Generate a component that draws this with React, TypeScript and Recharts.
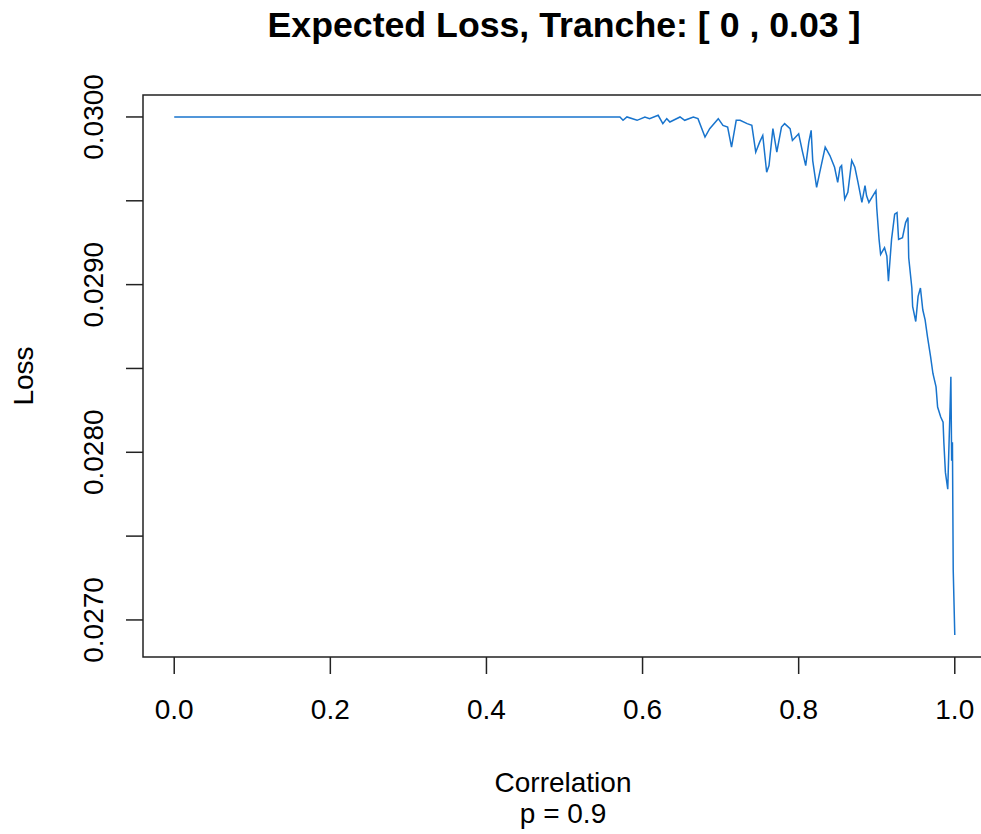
import { LineChart, Line, XAxis, YAxis, ReferenceArea } from 'recharts';

// correlation values (x) and expected loss (y)
const corr = [
  0.0, 0.571, 0.575, 0.58, 0.593, 0.603, 0.609, 0.62, 0.626, 0.631, 0.635, 0.648, 0.654, 0.665,
  0.671, 0.68, 0.686, 0.697, 0.703, 0.709, 0.714, 0.72, 0.725, 0.734, 0.74, 0.745, 0.75, 0.754,
  0.759, 0.762, 0.767, 0.772, 0.778, 0.782, 0.789, 0.792, 0.8, 0.805, 0.809, 0.813, 0.816, 0.818,
  0.823, 0.827, 0.834, 0.84, 0.846, 0.85, 0.853, 0.855, 0.859, 0.863, 0.868, 0.872, 0.876, 0.881,
  0.885, 0.887, 0.89, 0.895, 0.899, 0.9, 0.903, 0.905, 0.91, 0.913, 0.915, 0.919, 0.923, 0.926,
  0.928, 0.933, 0.937, 0.94, 0.941, 0.945, 0.946, 0.95, 0.953, 0.956, 0.959, 0.962, 0.965, 0.969,
  0.972, 0.976, 0.978, 0.982, 0.985, 0.986, 0.988, 0.991, 0.992, 0.994, 0.995, 0.996, 0.997, 0.998,
  1.0,
];
const loss = [
  0.03, 0.03, 0.02998, 0.03, 0.02998, 0.03, 0.02999, 0.03001, 0.02996, 0.02999, 0.02997, 0.03, 0.02998, 0.03,
  0.02999, 0.02988, 0.02993, 0.02999, 0.02995, 0.02994, 0.02982, 0.02998, 0.02998, 0.02996, 0.02995, 0.02979, 0.02985, 0.02989,
  0.02967, 0.02971, 0.02993, 0.02979, 0.02994, 0.02996, 0.02993, 0.02986, 0.0299, 0.02979, 0.02971, 0.02985, 0.02992, 0.02974,
  0.02958, 0.02967, 0.02982, 0.02977, 0.0297, 0.02961, 0.0297, 0.02971, 0.02951, 0.02955, 0.02974, 0.0297, 0.02961, 0.02949,
  0.02959, 0.02953, 0.02949, 0.02953, 0.02956, 0.02946, 0.02927, 0.02918, 0.02922, 0.02917, 0.02902, 0.02927, 0.02942, 0.02943,
  0.02927, 0.02928, 0.02937, 0.0294, 0.02916, 0.02898, 0.02887, 0.02878, 0.02893, 0.02898, 0.02885, 0.02879, 0.02869, 0.02857,
  0.02847, 0.02839, 0.02827, 0.02821, 0.02818, 0.02806, 0.02788, 0.02778, 0.02795, 0.02827, 0.02845, 0.02795, 0.02806, 0.0273,
  0.02691,
];
const xTicks = [0, 0.2, 0.4, 0.6, 0.8, 1.0];
const yTicks = [0.027, 0.0275, 0.028, 0.0285, 0.029, 0.0295, 0.03];

const data = corr.map((c, i) => ({ corr: c, loss: loss[i] }));

const X_MIN = -0.04;
const X_MAX = 1.04;
const Y_MIN = 0.026779;
const Y_MAX = 0.030131;
const FONT = '"Liberation Sans", Arial, sans-serif';

function XTick(props: any) {
  const { x, y, payload } = props;
  return (
    <text x={x} y={y + 45} textAnchor="middle" fontSize={28} fontFamily={FONT} fill="#000">
      {payload.value.toFixed(1)}
    </text>
  );
}

function YTick(props: any) {
  const { x, y, payload } = props;
  const v = payload.value;
  if (Math.round(v * 10000) % 10 !== 0) return null;
  const tx = x - 23;
  return (
    <text x={tx} y={y} transform={`rotate(-90, ${tx}, ${y})`} textAnchor="middle" fontSize={28} fontFamily={FONT} fill="#000">
      {v.toFixed(4)}
    </text>
  );
}

export default function App() {
  return (
    <div style={{ position: 'absolute', left: 0, top: 0, width: 981, height: 834, overflow: 'hidden', background: '#fff' }}>
      <LineChart width={1000} height={834} data={data} margin={{ top: 95, right: 14, bottom: 77, left: 0 }}>
        <XAxis
          dataKey="corr"
          type="number"
          domain={[X_MIN, X_MAX]}
          ticks={xTicks}
          allowDataOverflow
          height={100}
          tickSize={17}
          tickMargin={0}
          axisLine={false}
          tickLine={{ stroke: '#222', strokeWidth: 1.5 }}
          tick={<XTick />}
        />
        <YAxis
          type="number"
          domain={[Y_MIN, Y_MAX]}
          ticks={yTicks}
          allowDataOverflow
          width={143}
          tickSize={17}
          tickMargin={0}
          axisLine={false}
          tickLine={{ stroke: '#222', strokeWidth: 1.5 }}
          tick={<YTick />}
          interval={0}
        />
        <ReferenceArea x1={X_MIN} x2={X_MAX} y1={Y_MIN} y2={Y_MAX} fill="none" fillOpacity={0} stroke="#222" strokeWidth={1.5} />
        <Line dataKey="loss" type="linear" stroke="#1874CD" strokeWidth={1.5} dot={false} isAnimationActive={false} />
      </LineChart>
      <svg width={981} height={834} style={{ position: 'absolute', left: 0, top: 0, pointerEvents: 'none' }}>
        <text x={564} y={37} textAnchor="middle" fontSize={35.7} fontWeight="bold" fontFamily={FONT} fill="#000">
          Expected Loss, Tranche: [ 0 , 0.03 ]
        </text>
        <text x={563} y={792} textAnchor="middle" fontSize={28} fontFamily={FONT} fill="#000">
          Correlation
        </text>
        <text x={563} y={823} textAnchor="middle" fontSize={28} fontFamily={FONT} fill="#000">
          p = 0.9
        </text>
        <text x={33} y={376} transform="rotate(-90, 33, 376)" textAnchor="middle" fontSize={28} fontFamily={FONT} fill="#000">
          Loss
        </text>
      </svg>
    </div>
  );
}
